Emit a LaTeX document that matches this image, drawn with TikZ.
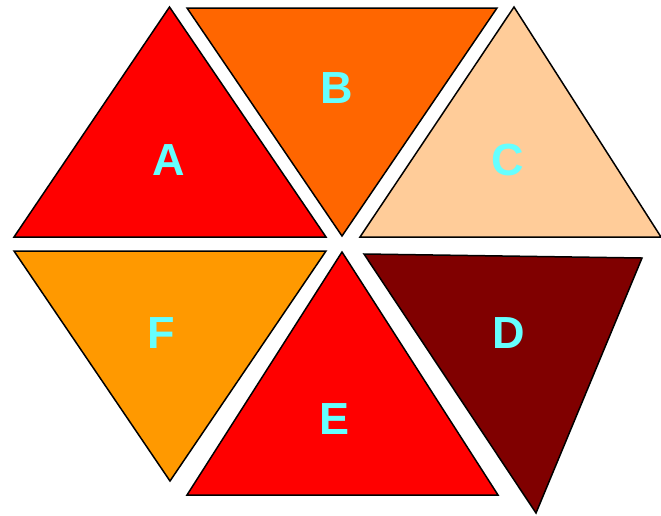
\documentclass[tikz,border=0pt]{standalone}
\usepackage{fontspec}
\setmainfont{Liberation Sans}
\usepackage{xcolor}
\usepackage{tikz}
\definecolor{redA}{HTML}{FF0000}
\definecolor{orangeB}{HTML}{FF6600}
\definecolor{peachC}{HTML}{FFCC99}
\definecolor{maroonD}{HTML}{800000}
\definecolor{redE}{HTML}{FF0000}
\definecolor{amberF}{HTML}{FF9900}
\definecolor{cyanlbl}{HTML}{66FFFF}

\begin{document}
\begin{tikzpicture}[x=1pt,y=-1pt]
\tikzset{piece/.style={draw=black,line width=1.5pt,line join=miter}, lbl/.style={text=cyanlbl,font=\fontsize{45}{45}\selectfont\bfseries,inner sep=0pt}}
\useasboundingbox (0,0) rectangle (661,515);
% upper row
\draw[piece,fill=redA] (169.5,7)--(326,237)--(14,237)--cycle;
\draw[piece,fill=orangeB] (187,8)--(497,8)--(342,236)--cycle;
\draw[piece,fill=peachC] (514,7)--(661,237)--(360,237)--cycle;
% lower row
\draw[piece,fill=amberF] (14,251)--(326,251)--(170,481)--cycle;
\draw[piece,fill=redE] (342,252)--(498,495)--(187,495)--cycle;
\draw[piece,fill=maroonD] (364,254)--(642,258)--(536,513)--cycle;
% letters
\node[lbl] (labA) at (169,160) {A};
\node[lbl] (labB) at (337,88) {B};
\node[lbl] (labC) at (508,160) {C};
\node[lbl] (labD) at (509,333) {D};
\node[lbl] (labE) at (335,419) {E};
\node[lbl] (labF) at (161,333) {F};
\end{tikzpicture}
\end{document}
